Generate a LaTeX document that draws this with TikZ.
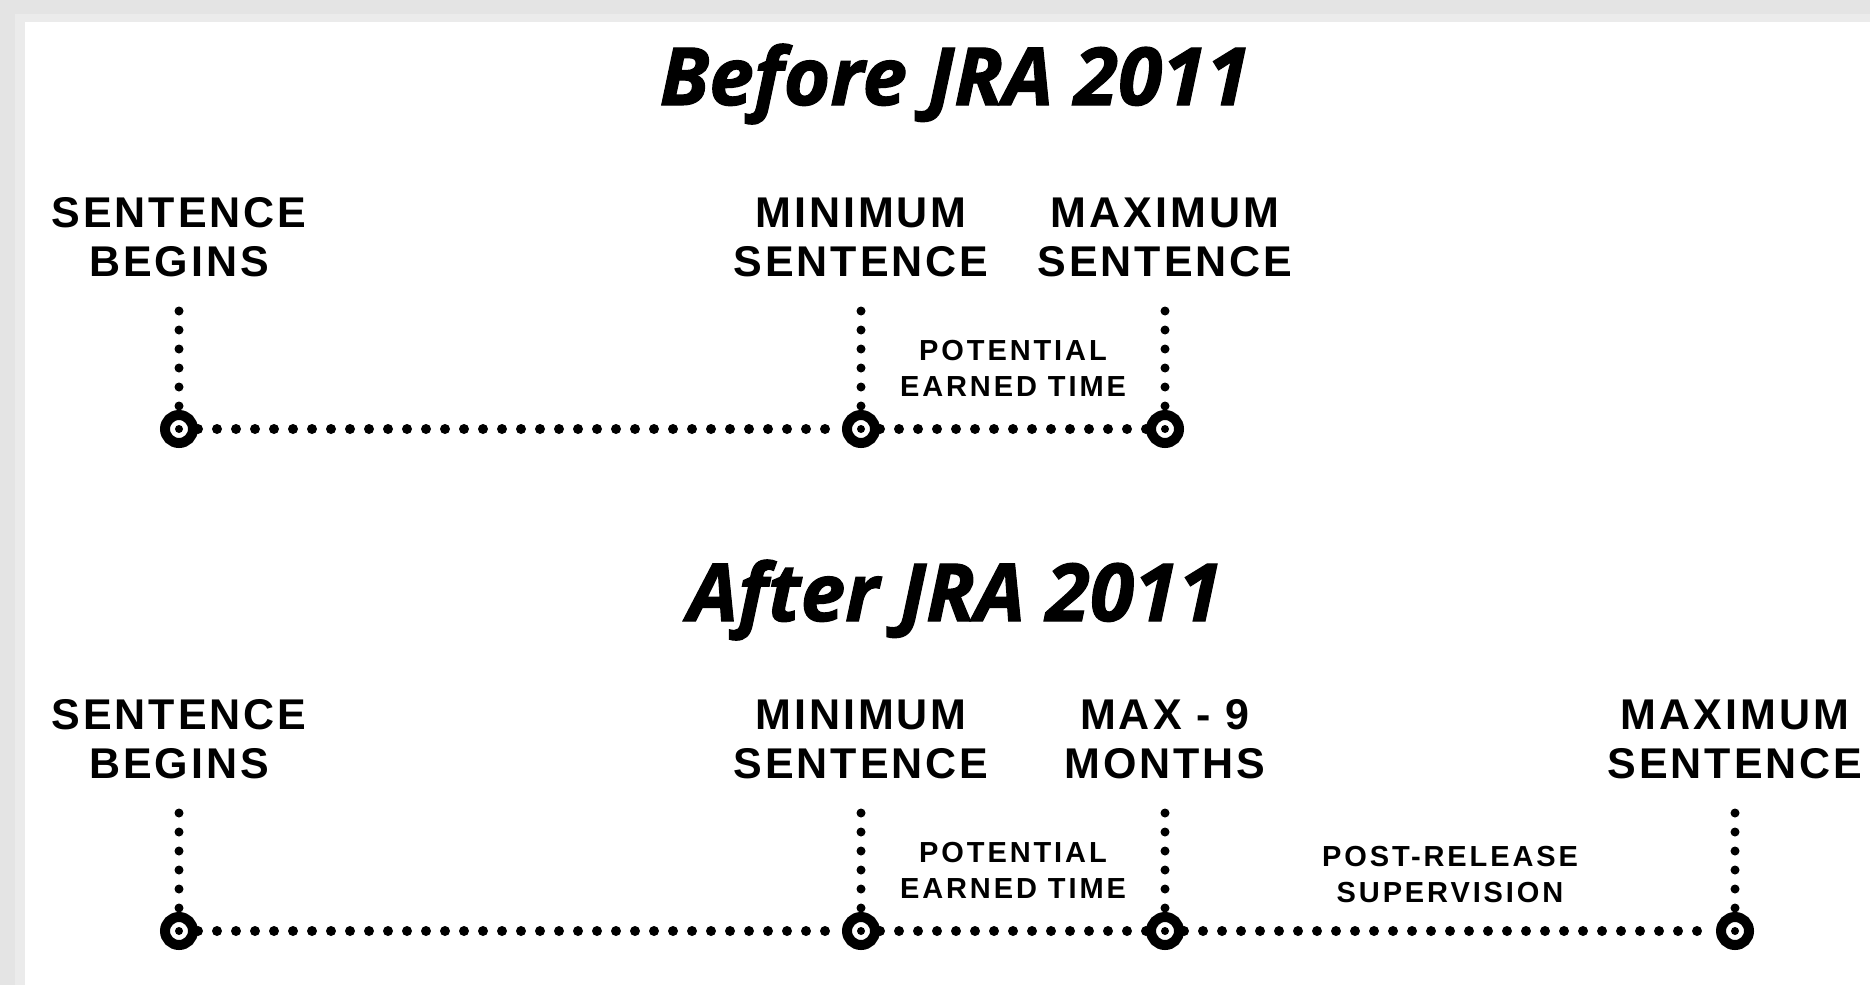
\documentclass[tikz,border=0pt]{standalone}
\usepackage{fontspec}
\setmainfont{Liberation Sans}
\newfontfamily\headfont{Open Sans}[BoldItalicFeatures={FakeBold=1.5}]
\newfontfamily\stagefont{Liberation Sans}[LetterSpace=7]
\newfontfamily\spanfont{Liberation Sans}[LetterSpace=10]
\usetikzlibrary{calc,positioning}
\definecolor{framegray}{HTML}{E4E4E4}
\definecolor{bandgray}{HTML}{EBEBEB}
\tikzset{
  milestone/.style={
    circle,
    draw=black, line width=10pt,
    fill=white,
    inner sep=0pt,
    minimum size=28pt,
    path picture={\fill[black] (path picture bounding box.center) circle (4pt);}},
  stage/.style={
    font=\stagefont\bfseries\fontsize{43}{49}\selectfont,
    align=center, inner sep=0pt, outer sep=0pt},
  spanlabel/.style={
    font=\spanfont\bfseries\fontsize{29}{36}\selectfont,
    align=center, inner sep=0pt},
  headline/.style={
    font=\headfont\bfseries\itshape\fontsize{80}{86}\selectfont,
    anchor=base, inner sep=0pt},
  hdots/.style={draw, line width=10pt, line cap=round, dash pattern=on 0pt off 19pt},
  vdots/.style={draw, line width=9pt, line cap=round, dash pattern=on 0pt off 19pt,
    shorten <=34pt},
}

\begin{document}
\begin{tikzpicture}[x=1pt,y=-1pt]
  \useasboundingbox (0,0) rectangle (1870,985);
  % page frame
  \fill[framegray] (0,0) rectangle (1870,985);
  \fill[bandgray] (15,14) rectangle (1870,985);
  \fill[white] (25,22) rectangle (1870,985);

  % before
  \node[headline] (t1) at (955,105) {Before JRA 2011};
  \node[milestone] (b1) at (179,429) {};
  \node[milestone] (m1) at (861,429) {};
  \node[milestone] (x1) at (1165,429) {};
  \node[stage, above=133pt of b1] (lb1) {SENTENCE\\BEGINS};
  \node[stage, above=133pt of m1] (lm1) {MINIMUM\\SENTENCE};
  \node[stage, above=133pt of x1] (lx1) {MAXIMUM\\SENTENCE};
  \node[spanlabel] (e1) at ($(m1)!.5!(x1)+(0,-60.5)$) {POTENTIAL\\EARNED TIME};
  \foreach \a/\b in {b1/m1, m1/x1}
    \draw[hdots] (\a) -- (\b);
  \foreach \n in {b1, m1, x1}
    \draw[vdots] (l\n) -- (\n);

  % after
  \node[headline] (t2) at (955,621) {After JRA 2011};
  \node[milestone] (b2) at (179,931) {};
  \node[milestone] (m2) at (861,931) {};
  \node[milestone] (n2) at (1165,931) {};
  \node[milestone] (x2) at (1735,931) {};
  \node[stage, above=133pt of b2] (lb2) {SENTENCE\\BEGINS};
  \node[stage, above=133pt of m2] (lm2) {MINIMUM\\SENTENCE};
  \node[stage, above=133pt of n2] (ln2) {MAX - 9\\MONTHS};
  \node[stage, above=133pt of x2] (lx2) {MAXIMUM\\SENTENCE};
  \node[spanlabel] (e2) at ($(m2)!.5!(n2)+(0,-60.5)$) {POTENTIAL\\EARNED TIME};
  \node[spanlabel] (p2) at ($(n2)!.5!(x2)+(0,-56.5)$) {POST-RELEASE\\SUPERVISION};
  \foreach \a/\b in {b2/m2, m2/n2, n2/x2}
    \draw[hdots] (\a) -- (\b);
  \foreach \n in {b2, m2, n2, x2}
    \draw[vdots] (l\n) -- (\n);
\end{tikzpicture}
\end{document}
